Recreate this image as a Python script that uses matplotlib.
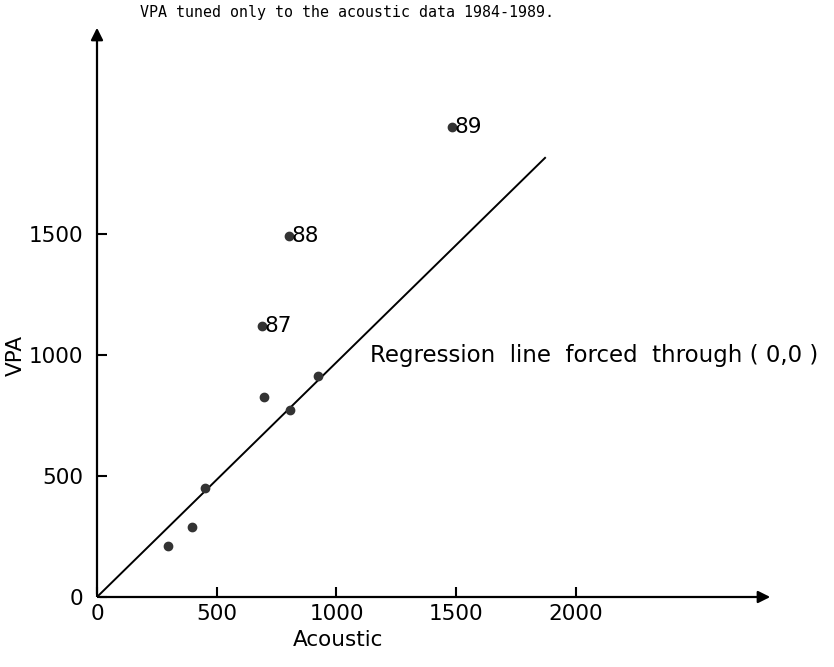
import numpy as np
import matplotlib.pyplot as plt

# acoustic vs VPA estimates
acoustic = [296, 397, 451, 697, 806, 923, 689, 802, 1482]
vpa = [211, 289, 450, 826, 773, 913, 1120, 1492, 1942]
years = ['', '', '', '', '', '', '87', '88', '89']

slope = 0.97
line_end = 1871

xticks = [0, 500, 1000, 1500, 2000]
yticks = [0, 500, 1000, 1500]

fig = plt.figure(figsize=(8.34, 6.67), dpi=100)
ax = fig.add_axes([97 / 834, 70 / 667, 676 / 834, 572 / 667])
ax.set_xlim(0, 2823)
ax.set_ylim(0, 2364)

for s in ['top', 'right', 'left', 'bottom']:
    ax.spines[s].set_visible(False)

# axes with arrow heads
ax.annotate('', xy=(1, 0), xytext=(0, 0), xycoords='axes fraction',
            arrowprops=dict(arrowstyle='-|>', color='black', lw=1.6, mutation_scale=18))
ax.annotate('', xy=(0, 1), xytext=(0, 0), xycoords='axes fraction',
            arrowprops=dict(arrowstyle='-|>', color='black', lw=1.6, mutation_scale=18))

ax.set_xticks(xticks)
ax.set_yticks(yticks)
ax.tick_params(axis='x', direction='in', length=7, width=1.5, pad=5, labelsize=15.5)
ax.tick_params(axis='y', direction='in', length=7, width=1.5, pad=10, labelsize=15.5)

# regression line through origin
xl = np.array([0, line_end])
ax.plot(xl, slope * xl, color='black', lw=1.4)

ax.plot(acoustic, vpa, 'o', color='#333333', markersize=6)
for x, y, lab in zip(acoustic, vpa, years):
    if lab:
        ax.text(x + 12, y, lab, fontsize=15.5, va='center', ha='left')

ax.text(1140, 1000, 'Regression  line  forced  through ( 0,0 )', fontsize=16.5,
        va='center', ha='left')

ax.set_xlabel('Acoustic', fontsize=15.5)
ax.xaxis.set_label_coords(0.356, -0.058)
ax.set_ylabel('VPA', fontsize=15.5)
ax.yaxis.set_label_coords(-0.105, 0.423)

fig.text(140 / 834, 1 - 12 / 667, 'VPA tuned only to the acoustic data 1984-1989.',
         family='DejaVu Sans Mono', fontsize=10.8, va='center', ha='left')

fig.savefig('out.png', dpi=100)
